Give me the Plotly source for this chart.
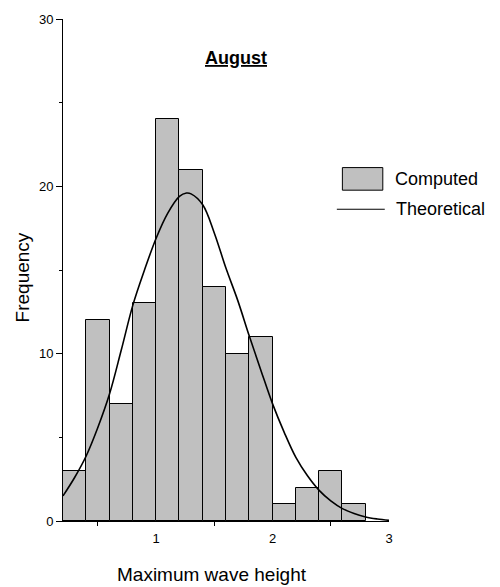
import plotly.graph_objects as go

# Histogram: bins of width 0.2 from 0.2 to 2.8
bin_centers = [0.3, 0.5, 0.7, 0.9, 1.1, 1.3, 1.5, 1.7, 1.9, 2.1, 2.3, 2.5, 2.7]
computed = [3, 12, 7, 13, 24, 21, 14, 10, 11, 1, 2, 3, 1]
bin_width = 0.2

# Theoretical curve
theo_x = [0.2, 0.3, 0.4, 0.5, 0.6, 0.7, 0.8, 0.9, 1.0, 1.1, 1.2, 1.26, 1.3, 1.4,
          1.5, 1.6, 1.7, 1.8, 1.9, 2.0, 2.1, 2.2, 2.3, 2.4, 2.5, 2.6, 2.7, 2.8, 2.9, 3.0]
theo_y = [1.5, 2.6, 3.9, 5.6, 7.6, 10.2, 12.9, 15.0, 16.9, 18.4, 19.4, 19.6, 19.55, 18.9,
          17.2, 15.1, 13.2, 11.05, 9.0, 7.0, 5.3, 3.8, 2.7, 1.83, 1.2, 0.74, 0.45, 0.24, 0.12, 0.04]

x_tick_vals = [1, 2, 3]
y_tick_vals = [0, 10, 20, 30]

FONT = "Liberation Sans, Arial, sans-serif"

fig = go.Figure()
fig.add_trace(go.Bar(
    x=bin_centers, y=computed, width=[bin_width] * len(bin_centers),
    marker=dict(color="#c0c0c0", line=dict(color="#000000", width=1)),
    name="Computed", showlegend=False,
))
fig.add_trace(go.Scatter(
    x=theo_x, y=theo_y, mode="lines", line=dict(color="#000000", width=1.6, shape="spline"),
    name="Theoretical", showlegend=False,
))

fig.update_layout(
    width=500, height=587,
    margin=dict(l=63, r=111, t=16, b=66),
    plot_bgcolor="white", paper_bgcolor="white",
    bargap=0,
    font=dict(family=FONT, color="#000000", size=13),
    xaxis=dict(
        range=[0.2, 3.0], showgrid=False, zeroline=False,
        showline=True, linecolor="#000000", linewidth=1,
        tickmode="array", tickvals=x_tick_vals,
        ticks="outside", ticklen=5, tickcolor="rgba(0,0,0,0)",
        tickfont=dict(size=13, family=FONT),
        minor=dict(tick0=0.5, dtick=1, ticks="outside", ticklen=4,
                   tickcolor="#000000", tickwidth=1, showgrid=False),
    ),
    yaxis=dict(
        range=[0, 30], showgrid=False, zeroline=False,
        showline=True, linecolor="#000000", linewidth=1,
        tickmode="array", tickvals=y_tick_vals,
        ticks="outside", ticklen=6, tickcolor="#000000", tickwidth=1,
        tickfont=dict(size=13, family=FONT),
        minor=dict(tickvals=[5, 15, 25], ticks="outside", ticklen=3,
                   tickcolor="#000000", tickwidth=1, showgrid=False),
    ),
)

# Titles
fig.add_annotation(text="<b><u>August</u></b>", xref="paper", yref="paper",
                   x=0.531, y=0.922, xanchor="center", yanchor="middle",
                   showarrow=False, font=dict(size=18, family=FONT))
fig.add_annotation(text="Maximum wave height", xref="paper", yref="paper",
                   x=0.458, y=-0.1075, xanchor="center", yanchor="middle",
                   showarrow=False, font=dict(size=19, family=FONT))
fig.add_annotation(text="Frequency", xref="paper", yref="paper",
                   x=-0.1236, y=0.4846, xanchor="center", yanchor="middle",
                   showarrow=False, textangle=-90,
                   font=dict(size=19, family=FONT))

# Custom legend
fig.add_shape(type="rect", xref="paper", yref="paper",
              x0=0.857, x1=0.981, y0=0.659, y1=0.704,
              fillcolor="#c0c0c0", line=dict(color="#000000", width=1))
fig.add_annotation(text="Computed", xref="paper", yref="paper",
                   x=1.012, y=0.681, xanchor="left", yanchor="middle",
                   showarrow=False, font=dict(size=18, family=FONT))
fig.add_shape(type="line", xref="paper", yref="paper",
              x0=0.840, x1=0.987, y0=0.621, y1=0.621,
              line=dict(color="#000000", width=1.2))
fig.add_annotation(text="Theoretical", xref="paper", yref="paper",
                   x=1.015, y=0.621, xanchor="left", yanchor="middle",
                   showarrow=False, font=dict(size=18, family=FONT))

fig.write_html(
    "out.html",
    config={"displayModeBar": False},
    post_script="document.body.style.margin='0';document.body.style.overflow='hidden';",
)
